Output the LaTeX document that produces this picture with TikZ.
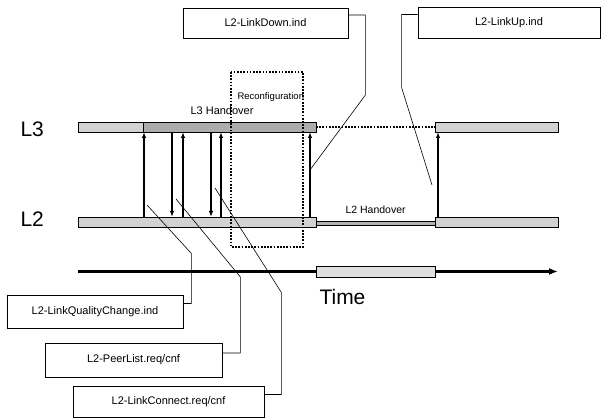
\documentclass[tikz,border=0pt]{standalone}
\usepackage{fontspec}
\setmainfont{Liberation Sans}
\usetikzlibrary{arrows.meta}

\begin{document}
\begin{tikzpicture}[x=1pt, y=-1pt,
    bar/.style={draw=black, line width=0.9pt, fill=gray!35},
    msg/.style={line width=1.8pt, -{Latex[length=6pt,width=4.5pt]}},
    leader/.style={line width=0.6pt},
    dots/.style={line width=1.7pt, dash pattern=on 1.7pt off 1.5pt},
    primbox/.style={draw, line width=0.8pt, inner sep=0pt, font=\fontsize{11}{13}\selectfont}]

    \useasboundingbox (0,0) rectangle (606,419);

    % Layer labels
    \node[anchor=base west, font=\fontsize{21}{24}\selectfont] (l3) at (17,137) {L3};
    \node[anchor=base west, font=\fontsize{21}{24}\selectfont] (l2) at (17,227) {L2};

    % L3 bars
    \draw[bar] (78,122) rectangle (316,132);
    \draw[bar, fill=gray!65] (143,122) rectangle (316,132);
    \draw[dots] (316,127) -- (435,127);
    \draw[bar] (435,122) rectangle (558,132);

    % L2 bars
    \draw[bar] (78,217) rectangle (316,227);
    \draw[bar, fill=gray!60, line width=0.6pt] (316,221) rectangle (435,225);
    \draw[bar] (435,217) rectangle (558,227);

    % Handover labels
    \node[anchor=base west, font=\fontsize{11}{13}\selectfont] (l3ho) at (187,115) {L3 Handover};
    \node[anchor=base west, font=\fontsize{10.5}{12}\selectfont] (l2ho) at (342,214) {L2 Handover};

    % Reconfiguration window
    \draw[dots, line width=1.5pt] (231,72) rectangle (303,247);
    \node[anchor=base west, font=\fontsize{9.5}{11}\selectfont] (reconf) at (234,100) {Reconfiguration};

    % Primitives between L2 and L3
    \foreach \x in {144,183,221,310,438}
        \draw[msg] (\x,217) -- (\x,132);
    \foreach \x in {172,211}
        \draw[msg] (\x,132) -- (\x,217);

    % Time axis
    \draw[line width=2.4pt, -{Latex[length=9pt,width=7pt]}] (78,271.5) -- (558,271.5);
    \draw[bar, fill=gray!25] (316,266) rectangle (435,277);
    \node[anchor=base west, font=\fontsize{21}{24}\selectfont] (time) at (316,305) {Time};

    % Primitive boxes
    \node[primbox, minimum width=165pt, minimum height=30pt] (linkdown) at (265.5,23) {L2-LinkDown.ind};
    \node[primbox, minimum width=182pt, minimum height=31pt] (linkup) at (509,22.5) {L2-LinkUp.ind};
    \node[primbox, minimum width=176pt, minimum height=33pt] (quality) at (95,311.5) {L2-LinkQualityChange.ind};
    \node[primbox, minimum width=177pt, minimum height=34pt] (peerlist) at (133.5,360) {L2-PeerList.req/cnf};
    \node[primbox, minimum width=191pt, minimum height=31pt] (connect) at (168.5,401.5) {L2-LinkConnect.req/cnf};

    % Leader ends
    \coordinate (downend) at (310,170);
    \coordinate (upend) at (432,185);
    \coordinate (qualend) at (147,205);
    \coordinate (peerend) at (176,199);
    \coordinate (connend) at (215,188);

    % Leaders
    \draw[leader] ([yshift=8pt]linkdown.east) -- ++(17,0) -- ++(0,80) -- (downend);
    \draw[leader] ([yshift=8pt]linkup.west) -- ++(-16,0) -- ++(0,73) -- (upend);
    \draw[leader] ([yshift=8pt]quality.east) -- ++(8,0) -- ++(0,-50) -- (qualend);
    \draw[leader] ([yshift=7pt]peerlist.east) -- ++(18,0) -- ++(0,-76) -- (peerend);
    \draw[leader] ([yshift=7pt]connect.east) -- ++(17,0) -- ++(0,-102) -- (connend);
\end{tikzpicture}
\end{document}
